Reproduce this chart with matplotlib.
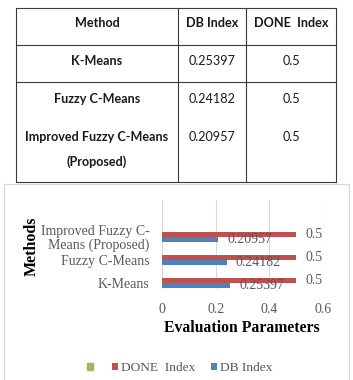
import matplotlib
matplotlib.use("Agg")
import matplotlib.pyplot as plt
from matplotlib.lines import Line2D
from matplotlib.patches import Rectangle

# data
methods = ["K-Means", "Fuzzy C-Means", "Improved Fuzzy C-Means (Proposed)"]
chart_labels = ["K-Means", "Fuzzy C-Means", "Improved Fuzzy C-\nMeans (Proposed)"]
db_index = [0.25397, 0.24182, 0.20957]
done_index = [0.5, 0.5, 0.5]
headers = ["Method", "DB Index", "DONE  Index"]
xticks = [0, 0.2, 0.4, 0.6]

W, H = 353, 380
fig = plt.figure(figsize=(W / 100, H / 100), dpi=100)


def fx(x):
    return x / W


def fy(y):
    return 1 - y / H


def line(x0, y0, x1, y1, color, lw=0.8):
    fig.add_artist(Line2D([fx(x0), fx(x1)], [fy(y0), fy(y1)],
                          transform=fig.transFigure, color=color, lw=lw))


# ---- table on top ----
tcol = "#3a3a3a"
col_x = [16, 178, 246, 336]
row_y = [8, 45, 82, 182]
for x in col_x:
    line(x, row_y[0], x, row_y[-1], tcol)
for y in row_y:
    line(col_x[0], y, col_x[-1], y, tcol)

centers = [(col_x[i] + col_x[i + 1]) / 2 for i in range(3)]
tfont = dict(family="Lato", fontsize=9.1, color="#1a1a1a")
for c, h in zip(centers, headers):
    fig.text(fx(c), fy(23), h, ha="center", va="center", weight="bold", **tfont)

text_rows = [61, 99, 137]
for i, m in enumerate(methods):
    y = text_rows[i]
    if "(Proposed)" in m:
        first, second = m.replace(" (Proposed)", ""), "(Proposed)"
        fig.text(fx(centers[0]), fy(y), first, ha="center", va="center", weight="bold", **tfont)
        fig.text(fx(centers[0]), fy(y + 25), second, ha="center", va="center", weight="bold", **tfont)
    else:
        fig.text(fx(centers[0]), fy(y), m, ha="center", va="center", weight="bold", **tfont)
    fig.text(fx(centers[1]), fy(y), f"{db_index[i]:g}", ha="center", va="center", **tfont)
    fig.text(fx(centers[2]), fy(y), f"{done_index[i]:g}", ha="center", va="center", **tfont)

# ---- chart frame ----
fig.add_artist(Rectangle((fx(4), fy(400)), fx(349) - fx(4), fy(184) - fy(400),
                         transform=fig.transFigure, fill=False, ec="#d9d9d9", lw=0.9))

# ---- bar chart ----
plt.rcParams["font.family"] = ["Liberation Serif", "DejaVu Serif"]
gray = "#595959"
red = "#C0504D"
blue = "#4F81BD"
green = "#9BBB59"

ax = fig.add_axes([fx(162), fy(289), (323 - 162) / W, (289 - 200) / H])
pos = list(range(len(methods)))
h = 0.217
b_done = ax.barh([p + h / 2 for p in pos], done_index, height=h, color=red, label="DONE  Index")
b_db = ax.barh([p - h / 2 for p in pos], db_index, height=h, color=blue, label="DB Index")

ax.bar_label(b_done, labels=[f"{v:g}" for v in done_index], padding=7, fontsize=10, color=gray)
ax.bar_label(b_db, labels=[f"{v:g}" for v in db_index], padding=6.5, fontsize=10, color=gray)

ax.set_xlim(0, 0.6)
ax.set_ylim(-0.274, 3.596)
ax.set_xticks(xticks)
ax.set_xticklabels([f"{t:g}" for t in xticks])
ax.set_yticks(pos)
ax.set_yticklabels(chart_labels, linespacing=1.0)
ax.tick_params(axis="x", length=0, pad=10, labelsize=10, labelcolor=gray)
ax.tick_params(axis="y", length=0, pad=9, labelsize=10, labelcolor=gray)
ax.xaxis.grid(True, color="#d9d9d9", lw=0.8)
ax.set_axisbelow(True)
for s in ax.spines.values():
    s.set_visible(False)

ax.set_xlabel("Evaluation Parameters", fontsize=11.3, weight="bold", color="black")
ax.xaxis.label.set_va("center")
ax.xaxis.set_label_coords((242 - 162) / 161, (289 - 328) / 89)
ax.set_ylabel("Methods", fontsize=11.5, weight="bold", color="black")
ax.yaxis.label.set_va("center")
ax.yaxis.set_label_coords((32 - 162) / 161, (289 - 246.5) / 89)

g = Rectangle((0, 0), 1, 1, color=green)
fig.legend([g, b_done, b_db], ["", "DONE  Index", "DB Index"], loc="center",
           bbox_to_anchor=(fx(180), fy(368)), ncol=3, frameon=False, fontsize=9.6,
           labelcolor=gray, handlelength=0.42, handleheight=0.42,
           handletextpad=0.25, columnspacing=1.2, borderpad=0)

fig.savefig("out.png", dpi=100)
